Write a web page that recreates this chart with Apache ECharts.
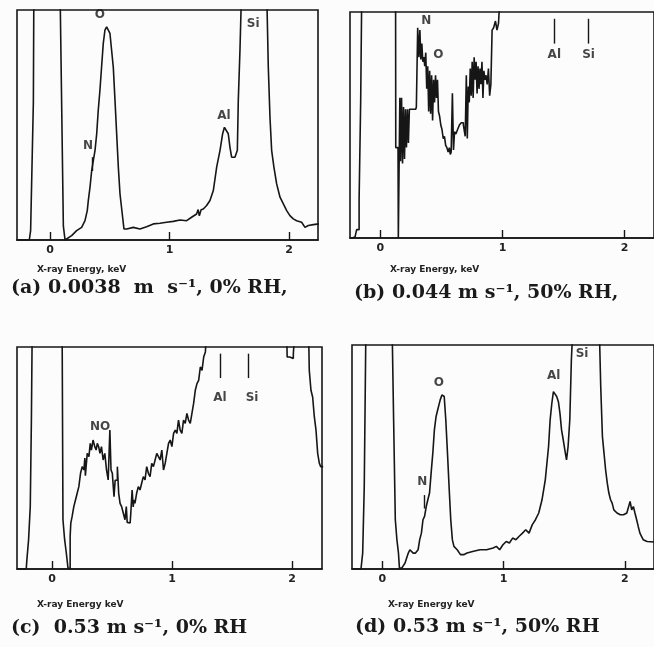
<!DOCTYPE html>
<html>
<head>
<meta charset="utf-8">
<script src="https://cdn.jsdelivr.net/npm/echarts@6/dist/echarts.min.js"></script>
<style>
  html, body { margin: 0; padding: 0; background: #fcfcfc; }
  #chart { width: 654px; height: 647px; }
</style>
</head>
<body>
<div id="chart"></div>
<script>
// energy in keV, counts in % of panel full scale (values > 100 are off-scale and get clipped)
const energyA = [-0.28, -0.173, -0.162, -0.139, -0.134, 0.084, 0.112, 0.126, 0.139, 0.181, 0.223, 0.265, 0.293, 0.312, 0.321, 0.335, 0.349, 0.363, 0.377, 0.391, 0.404, 0.418, 0.432, 0.446, 0.46, 0.474, 0.488, 0.502, 0.53, 0.544, 0.558, 0.572, 0.586, 0.608, 0.619, 0.642, 0.697, 0.753, 0.809, 0.865, 0.921, 0.976, 1.032, 1.088, 1.144, 1.185, 1.227, 1.24, 1.25, 1.265, 1.283, 1.311, 1.339, 1.367, 1.395, 1.423, 1.445, 1.46, 1.473, 1.492, 1.506, 1.52, 1.548, 1.568, 1.576, 1.59, 1.604, 1.813, 1.827, 1.841, 1.855, 1.874, 1.897, 1.925, 1.953, 1.981, 2.008, 2.036, 2.064, 2.106, 2.134, 2.162, 2.204, 2.25];
const countsA = [0, 0, 4.1, 60, 120, 110, 6, 0, 0.5, 1.9, 4.1, 5.5, 8.4, 12.8, 17.2, 23, 30.2, 34.6, 39, 46.2, 56.4, 65.1, 75.3, 85.5, 91.3, 92.7, 92, 89.8, 75, 60.8, 46.2, 31.7, 20, 9.9, 4.8, 4.8, 5.5, 4.8, 5.8, 7, 7.3, 7.7, 8.1, 8.7, 8.4, 9.9, 11.3, 13.2, 10.5, 13.2, 13.5, 15, 17.2, 21.5, 31.7, 39, 46.2, 49, 48.4, 46.2, 40.4, 36, 36, 39, 60.8, 82.6, 110, 110, 75.3, 53.5, 39, 31.7, 24.4, 18.6, 15.7, 12.8, 10.6, 9.2, 8.4, 7.7, 5.5, 6.3, 6.7, 7];

const energyB = [-0.25, -0.233, -0.207, -0.18, -0.167, -0.154, -0.149, 0.125, 0.128, 0.145, 0.15, 0.158, 0.162, 0.17, 0.178, 0.186, 0.194, 0.202, 0.21, 0.218, 0.226, 0.234, 0.242, 0.29, 0.3, 0.312, 0.32, 0.328, 0.336, 0.344, 0.352, 0.36, 0.368, 0.376, 0.384, 0.392, 0.4, 0.408, 0.416, 0.424, 0.432, 0.44, 0.448, 0.456, 0.464, 0.472, 0.48, 0.49, 0.5, 0.51, 0.52, 0.53, 0.54, 0.55, 0.56, 0.57, 0.575, 0.585, 0.595, 0.603, 0.612, 0.625, 0.64, 0.655, 0.67, 0.69, 0.7, 0.708, 0.716, 0.724, 0.732, 0.74, 0.748, 0.756, 0.764, 0.772, 0.78, 0.788, 0.796, 0.804, 0.812, 0.82, 0.828, 0.836, 0.844, 0.852, 0.86, 0.87, 0.88, 0.89, 0.9, 0.91, 0.92, 0.935, 0.95, 0.96, 0.975, 0.99, 2.25];
const countsB = [0, 0, 0.4, 3.7, 16.9, 61, 110, 110, 40, 40, 0, 0, 62, 34, 62, 33, 58, 35, 57, 40, 57, 42, 57, 57, 58, 93, 80, 92, 79, 86, 78, 80, 76, 82, 66, 76, 56, 74, 55, 72, 52, 70, 60, 72, 62, 70, 56, 54, 50, 48, 44, 45, 41, 40, 38, 40, 37, 38, 64, 39, 47, 46, 48, 50, 51, 50, 45, 72, 44, 67, 60, 75, 63, 78, 62, 80, 70, 78, 64, 76, 66, 75, 68, 78, 62, 74, 70, 72, 68, 75, 63, 68, 92, 93, 96, 92, 95, 110, 110];

const energyC = [-0.29, -0.215, -0.204, -0.187, -0.176, -0.168, -0.162, 0.084, 0.098, 0.112, 0.126, 0.14, 0.148, 0.154, 0.159, 0.176, 0.187, 0.204, 0.215, 0.232, 0.243, 0.26, 0.271, 0.276, 0.28, 0.288, 0.299, 0.316, 0.321, 0.335, 0.349, 0.363, 0.372, 0.383, 0.394, 0.405, 0.419, 0.433, 0.447, 0.461, 0.475, 0.489, 0.494, 0.511, 0.522, 0.53, 0.539, 0.55, 0.561, 0.573, 0.587, 0.601, 0.615, 0.623, 0.63, 0.634, 0.651, 0.662, 0.673, 0.68, 0.684, 0.698, 0.712, 0.726, 0.74, 0.754, 0.768, 0.782, 0.796, 0.81, 0.824, 0.838, 0.852, 0.866, 0.88, 0.894, 0.908, 0.922, 0.936, 0.95, 0.964, 0.978, 0.992, 1.006, 1.02, 1.034, 1.047, 1.061, 1.075, 1.089, 1.103, 1.117, 1.131, 1.145, 1.159, 1.173, 1.187, 1.201, 1.215, 1.229, 1.243, 1.257, 1.271, 1.285, 1.299, 1.955, 1.964, 1.997, 2.025, 2.031, 2.137, 2.151, 2.165, 2.179, 2.193, 2.207, 2.221, 2.235, 2.243, 2.26];
const countsC = [0, 0, 4.2, 13.2, 28.1, 67.1, 110, 110, 22.2, 13.2, 7.2, 0.4, 0, 14.7, 20.7, 23.7, 28.1, 31.1, 34.1, 37.1, 43.1, 46.1, 44.6, 50, 42, 46.1, 52.1, 50.6, 56.6, 53.6, 58.1, 55.1, 53.6, 56.6, 55.1, 52.1, 55.1, 49.1, 52.1, 44.6, 40.1, 62.6, 44.6, 43.1, 32.6, 40, 40.1, 46.1, 34.1, 29.6, 28.1, 25.1, 22.2, 28.1, 21, 20.7, 20.7, 25.1, 35.6, 28, 31.1, 29.6, 34.1, 37.1, 35.6, 38.6, 41.6, 40.1, 46.1, 43.1, 41.6, 47.6, 46.1, 49.1, 52.1, 50.6, 49.1, 53.6, 44.6, 47.6, 52.1, 56.6, 58.1, 55.1, 61.1, 62.6, 61.1, 67.1, 62.6, 61.1, 67.1, 65.6, 70.1, 67.1, 65.6, 70.1, 74.6, 80.5, 83.5, 85, 91, 89.5, 95.5, 97.8, 110, 110, 95.5, 94.8, 97, 110, 110, 89.5, 80.5, 77.5, 68.6, 62.6, 52.1, 47.6, 46.1, 46.1];

const energyD = [-0.25, -0.175, -0.161, -0.148, -0.134, 0.081, 0.094, 0.108, 0.121, 0.134, 0.142, 0.161, 0.188, 0.215, 0.228, 0.242, 0.255, 0.274, 0.296, 0.309, 0.323, 0.336, 0.349, 0.363, 0.376, 0.39, 0.403, 0.417, 0.43, 0.444, 0.457, 0.478, 0.492, 0.511, 0.524, 0.538, 0.551, 0.565, 0.578, 0.591, 0.618, 0.645, 0.672, 0.699, 0.753, 0.806, 0.86, 0.914, 0.941, 0.968, 0.995, 1.022, 1.048, 1.075, 1.102, 1.129, 1.156, 1.183, 1.21, 1.237, 1.263, 1.29, 1.317, 1.344, 1.371, 1.384, 1.398, 1.411, 1.425, 1.438, 1.452, 1.465, 1.478, 1.492, 1.505, 1.519, 1.532, 1.546, 1.559, 1.573, 1.788, 1.801, 1.815, 1.828, 1.841, 1.855, 1.868, 1.882, 1.895, 1.909, 1.935, 1.962, 1.989, 2.016, 2.043, 2.056, 2.07, 2.083, 2.097, 2.11, 2.124, 2.137, 2.151, 2.164, 2.183, 2.25];
const countsD = [0, 0, 7.1, 36.8, 110, 110, 66.6, 22, 13.1, 7.1, 0.4, 0.4, 2.7, 7.1, 8.6, 9.4, 7.1, 7.1, 8.6, 13.1, 16, 22, 23.5, 27.9, 30.9, 33.9, 42.8, 51.7, 62.1, 68.1, 71, 75.5, 77.7, 77, 66.6, 51.7, 36.8, 22, 13.1, 10.1, 8.6, 6.4, 6.4, 7.1, 7.9, 8.6, 8.6, 9.4, 10.1, 8.6, 10.8, 12.3, 11.6, 13.8, 13.1, 14.6, 16, 17.5, 16, 19.8, 22, 25, 30.9, 39.8, 54.7, 66.6, 74, 79.2, 79.2, 77, 74.7, 69.5, 62.1, 57.7, 53.2, 48.7, 54.7, 66.6, 93.3, 110, 110, 81.4, 59.1, 51.7, 44.3, 38.3, 33.9, 30.9, 29.4, 26.4, 25, 24.2, 24.2, 25, 30.2, 26.4, 27.9, 25, 22, 19, 16, 14.6, 13.1, 12.3, 12.3, 12];

// peak labels: [text, keV, level]
const labelsA = [['O', 0.418, 98], ['N', 0.318, 41], ['Al', 1.456, 54], ['Si', 1.70, 94]];
const labelsB = [['N', 0.376, 96], ['O', 0.475, 81], ['Al', 1.424, 81], ['Si', 1.704, 81]];
const labelsC = [['NO', 0.40, 64], ['Al', 1.40, 77], ['Si', 1.667, 77]];
const labelsD = [['O', 0.466, 83], ['N', 0.33, 39], ['Al', 1.414, 86], ['Si', 1.647, 96]];

// arrows: [keV, from, to] (upward ones mark off-scale lines, short downward ones point at N)
const arrowsA = [[0.355, 36, 30]];
const arrowsB = [[1.424, 86, 97], [1.704, 86, 97]];
const arrowsC = [[1.40, 86, 97], [1.633, 86, 97]];
const arrowsD = [[0.35, 33, 27]];

const tickValues = [0, 1, 2];

const captions = ['(a) 0.0038  m  s⁻¹, 0% RH,', '(b) 0.044 m s⁻¹, 50% RH,', '(c)  0.53 m s⁻¹, 0% RH', '(d) 0.53 m s⁻¹, 50% RH'];
const axisTitles = ['X-ray Energy, keV', 'X-ray Energy, keV', 'X-ray Energy keV', 'X-ray Energy keV'];

const ink = '#161616';

const panels = [
    { energy: energyA, counts: countsA, labels: labelsA, arrows: arrowsA, step: false, grid: { left: 17, top: 10, width: 301, height: 230 }, min: -0.276, max: 2.243 },
    { energy: energyB, counts: countsB, labels: labelsB, arrows: arrowsB, step: 'middle', grid: { left: 350, top: 12, width: 311, height: 226 }, min: -0.248, max: 2.24 },
    { energy: energyC, counts: countsC, labels: labelsC, arrows: arrowsC, step: 'middle', grid: { left: 17, top: 347, width: 305, height: 222 }, min: -0.292, max: 2.25 },
    { energy: energyD, counts: countsD, labels: labelsD, arrows: arrowsD, step: false, grid: { left: 352, top: 345, width: 310, height: 224 }, min: -0.249, max: 2.24 }
];

const chart = echarts.init(document.getElementById('chart'));

const grids = [], xAxes = [], yAxes = [], series = [];
panels.forEach((p, i) => {
    grids.push(Object.assign({ show: true, borderColor: ink, borderWidth: 1.6, backgroundColor: 'transparent' }, p.grid));
    xAxes.push({
        gridIndex: i, type: 'value', min: p.min, max: p.max,
        axisLine: { show: true, lineStyle: { color: ink, width: 1.6 } },
        axisTick: { show: true, inside: true, length: 8, customValues: tickValues, lineStyle: { color: ink, width: 1.4 } },
        axisLabel: { customValues: tickValues, margin: 5, color: '#222', fontSize: 11, fontWeight: 'bold', fontFamily: 'DejaVu Sans' },
        splitLine: { show: false }
    });
    yAxes.push({ gridIndex: i, type: 'value', min: 0, max: 100, show: false });
    series.push({
        type: 'line', xAxisIndex: i, yAxisIndex: i, clip: true, symbol: 'none', silent: true, step: p.step,
        lineStyle: { color: ink, width: 1.6 },
        data: p.energy.map((e, k) => [e, p.counts[k]])
    });
    series.push({
        type: 'scatter', xAxisIndex: i, yAxisIndex: i, symbolSize: 0, silent: true,
        label: {
            show: true, position: 'inside', formatter: d => d.data[2],
            color: ink, fontFamily: 'DejaVu Sans', fontWeight: 'bold', fontSize: 12
        },
        data: p.labels.map(l => [l[1], l[2], l[0]]),
        markLine: {
            silent: true, symbol: ['none', 'arrow'], symbolSize: [0, 6],
            label: { show: false },
            lineStyle: { color: ink, width: 1.4, type: 'solid' },
            data: p.arrows.map(a => [{ coord: [a[0], a[1]] }, { coord: [a[0], a[2]] }])
        }
    });
});

const textPos = [
    { axis: [37, 265], cap: [11, 279] },
    { axis: [390, 265], cap: [354, 284] },
    { axis: [37, 600], cap: [11, 619] },
    { axis: [388, 600], cap: [355, 618] }
];
const graphics = [];
textPos.forEach((t, i) => {
    graphics.push({ type: 'text', left: t.axis[0], top: t.axis[1], style: { text: axisTitles[i], font: 'bold 9px "DejaVu Sans"', fill: '#222' } });
    graphics.push({ type: 'text', left: t.cap[0], top: t.cap[1], style: { text: captions[i], font: 'bold 19px "DejaVu Serif"', fill: '#1a1a1a' } });
});

chart.setOption({
    animation: false,
    backgroundColor: '#fcfcfc',
    grid: grids,
    xAxis: xAxes,
    yAxis: yAxes,
    series: series,
    graphic: graphics
});
</script>
</body>
</html>
